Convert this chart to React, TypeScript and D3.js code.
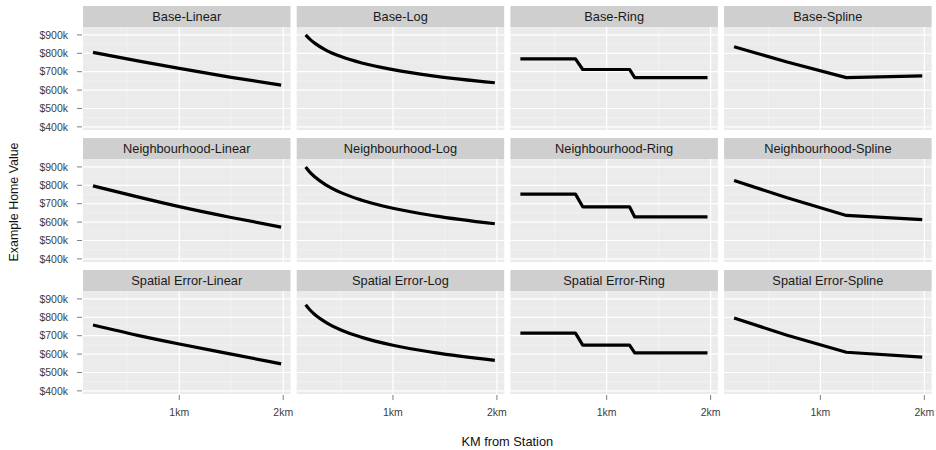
import React, { useEffect, useRef } from "react";
import * as d3 from "d3";

const rowLabels = ["Base", "Neighbourhood", "Spatial Error"];
const colLabels = ["Linear", "Log", "Ring", "Spline"];

const yTicks = [400, 500, 600, 700, 800, 900];
const yTickLabels = ["$400k", "$500k", "$600k", "$700k", "$800k", "$900k"];
const yMinor = [450, 550, 650, 750, 850];
const xTicks = [1, 2];
const xTickLabels = ["1km", "2km"];
const xMinor = [0.5, 1.5];

const linearX = [0.17, 0.6, 1.0, 1.5, 1.98];
const logX = [0.16, 0.2, 0.25, 0.35, 0.5, 0.7, 1.0, 1.4, 1.98];
const ringX = [0.17, 0.7, 0.77, 1.22, 1.27, 1.97];
const splineX = [0.17, 0.68, 1.25, 1.98];

const baseLinear = [805, 759, 718, 669, 627];
const baseLog = [900, 877, 854, 819, 782, 747, 711, 676, 640];
const baseRing = [770, 770, 712, 712, 668, 668];
const baseSpline = [836, 753, 668, 677];

const nbhdLinear = [797, 737, 684, 625, 573];
const nbhdLog = [900, 872, 845, 804, 760, 719, 675, 634, 591];
const nbhdRing = [752, 752, 683, 683, 628, 628];
const nbhdSpline = [826, 732, 636, 613];

const seLinear = [758, 702, 655, 600, 547];
const seLog = [868, 841, 814, 774, 731, 691, 648, 608, 566];
const seRing = [714, 714, 649, 649, 607, 607];
const seSpline = [796, 702, 610, 583];

const xs = [linearX, logX, ringX, splineX];
const series = [
  [baseLinear, baseLog, baseRing, baseSpline],
  [nbhdLinear, nbhdLog, nbhdRing, nbhdSpline],
  [seLinear, seLog, seRing, seSpline],
];

if (typeof document !== "undefined") document.body.style.margin = "0";

export default function App() {
  const ref = useRef<SVGSVGElement>(null);
  useEffect(() => {
    const svg = d3.select(ref.current);
    svg.selectAll("*").remove();
    const font = "'Liberation Sans', Arial, sans-serif";
    const panelW = 207.5;
    const colPitch = 213.7;
    const left0 = 83;
    const stripH = 21;
    const panelH = 103;
    const rowPitch = 132;
    const top0 = 6;

    const x = d3.scaleLinear().domain([0.074, 2.07]).range([0, panelW]);
    const y = d3.scaleLinear().domain([383, 943]).range([panelH, 0]);
    const smooth = d3
      .line<[number, number]>()
      .x((d) => x(d[0]))
      .y((d) => y(d[1]))
      .curve(d3.curveMonotoneX);
    const straight = d3
      .line<[number, number]>()
      .x((d) => x(d[0]))
      .y((d) => y(d[1]));

    rowLabels.forEach((rl, r) => {
      const stripTop = top0 + r * rowPitch;
      const pTop = stripTop + stripH;
      const ya = svg.append("g").attr("transform", `translate(0,${pTop})`);
      yTicks.forEach((t, i) => {
        ya.append("line")
          .attr("x1", left0 - 6)
          .attr("x2", left0 - 1)
          .attr("y1", y(t))
          .attr("y2", y(t))
          .attr("stroke", "#7f7f7f")
          .attr("stroke-width", 1);
        ya.append("text")
          .attr("x", left0 - 15)
          .attr("y", y(t))
          .attr("dy", "0.35em")
          .attr("text-anchor", "end")
          .attr("font-family", font)
          .attr("font-size", 10.5)
          .attr("fill", "#3d3d3d")
          .text(yTickLabels[i]);
      });
      colLabels.forEach((cl, c) => {
        const pLeft = left0 + c * colPitch;
        const g = svg.append("g").attr("transform", `translate(${pLeft},${stripTop})`);
        g.append("rect")
          .attr("width", panelW)
          .attr("height", stripH)
          .attr("fill", "#cfcfcf");
        g.append("text")
          .attr("x", panelW / 2)
          .attr("y", stripH / 2)
          .attr("dy", "0.36em")
          .attr("text-anchor", "middle")
          .attr("font-family", font)
          .attr("font-size", 12.8)
          .attr("fill", "#1a1a1a")
          .text(`${rl}-${cl}`);
        const p = g.append("g").attr("transform", `translate(0,${stripH})`);
        p.append("rect")
          .attr("width", panelW)
          .attr("height", panelH)
          .attr("fill", "#ebebeb");
        yMinor.forEach((t) =>
          p.append("line")
            .attr("x1", 0).attr("x2", panelW)
            .attr("y1", y(t)).attr("y2", y(t))
            .attr("stroke", "#f3f3f3").attr("stroke-width", 0.6)
        );
        xMinor.forEach((t) =>
          p.append("line")
            .attr("y1", 0).attr("y2", panelH)
            .attr("x1", x(t)).attr("x2", x(t))
            .attr("stroke", "#f5f5f5").attr("stroke-width", 0.6)
        );
        yTicks.forEach((t) =>
          p.append("line")
            .attr("x1", 0).attr("x2", panelW)
            .attr("y1", y(t)).attr("y2", y(t))
            .attr("stroke", "#ffffff").attr("stroke-width", 1.2)
        );
        xTicks.forEach((t) =>
          p.append("line")
            .attr("y1", 0).attr("y2", panelH)
            .attr("x1", x(t)).attr("x2", x(t))
            .attr("stroke", "#ffffff").attr("stroke-width", 1.2)
        );
        const data: [number, number][] = xs[c].map((xv, i) => [xv, series[r][c][i]]);
        const gen = c <= 1 ? smooth : straight;
        p.append("path")
          .attr("d", gen(data) as string)
          .attr("fill", "none")
          .attr("stroke", "#000")
          .attr("stroke-width", 3.2)
          .attr("stroke-linejoin", "round");
        if (r === rowLabels.length - 1) {
          xTicks.forEach((t, i) => {
            p.append("line")
              .attr("x1", x(t)).attr("x2", x(t))
              .attr("y1", panelH + 1).attr("y2", panelH + 6)
              .attr("stroke", "#7f7f7f");
            p.append("text")
              .attr("x", x(t))
              .attr("y", panelH + 22)
              .attr("text-anchor", "middle")
              .attr("font-family", font)
              .attr("font-size", 10.5)
              .attr("fill", "#3d3d3d")
              .text(xTickLabels[i]);
          });
        }
      });
    });

    const plotLeft = left0;
    const plotRight = left0 + 3 * colPitch + panelW;
    svg.append("text")
      .attr("x", (plotLeft + plotRight) / 2)
      .attr("y", 446)
      .attr("text-anchor", "middle")
      .attr("font-family", font)
      .attr("font-size", 12.8)
      .attr("fill", "#111")
      .text("KM from Station");
    const plotTop = top0;
    const plotBottom = top0 + 2 * rowPitch + stripH + panelH;
    svg.append("text")
      .attr("transform", `translate(18,${(plotTop + plotBottom) / 2 + 2}) rotate(-90)`)
      .attr("text-anchor", "middle")
      .attr("font-family", font)
      .attr("font-size", 12.4)
      .attr("fill", "#111")
      .text("Example Home Value");
  }, []);
  return <svg ref={ref} width={936} height={450} style={{ display: "block" }} />;
}
